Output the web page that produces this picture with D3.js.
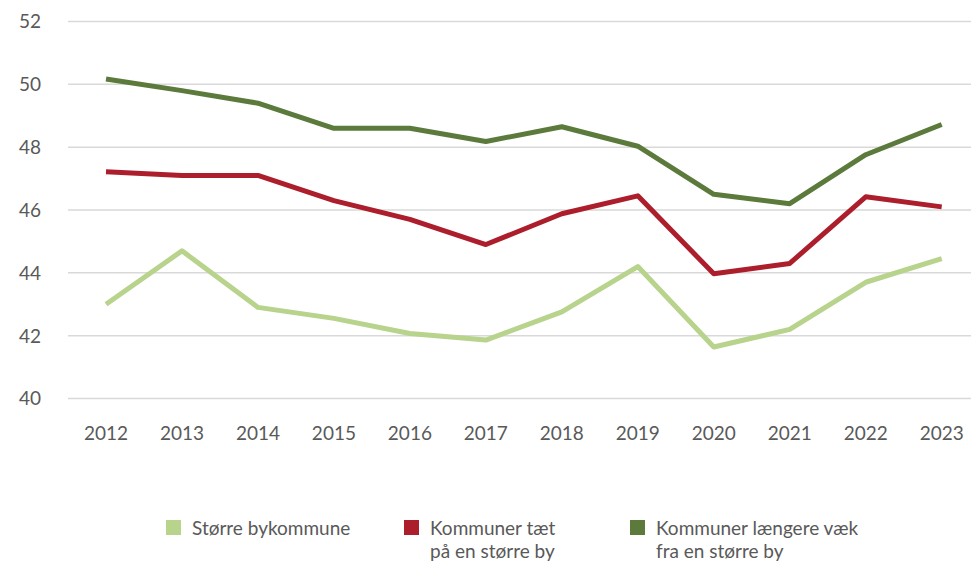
<!DOCTYPE html>
<html>
<head>
<meta charset="utf-8">
<script src="https://cdn.jsdelivr.net/npm/d3@7"></script>
<style>
  html, body { margin: 0; padding: 0; background: #fff; }
  svg { display: block; }
  text { font-family: Lato, "Open Sans", sans-serif; fill: #595959; }
</style>
</head>
<body>
<svg id="chart" width="971" height="562"></svg>
<script>
// Years on the x axis
const years = [2012, 2013, 2014, 2015, 2016, 2017, 2018, 2019, 2020, 2021, 2022, 2023];

// Series values per year
const stoerreBykommune = [43.0, 44.7, 42.9, 42.55, 42.07, 41.86, 42.76, 44.2, 41.64, 42.2, 43.7, 44.45];
const taetPaaBy        = [47.22, 47.1, 47.1, 46.3, 45.7, 44.9, 45.88, 46.45, 43.97, 44.3, 46.42, 46.1];
const laengereVaek     = [50.17, 49.8, 49.4, 48.6, 48.6, 48.18, 48.65, 48.03, 46.5, 46.2, 47.76, 48.72];

// Legend labels (split over lines)
const seriesLabels = [
  ["Større bykommune"],
  ["Kommuner tæt", "på en større by"],
  ["Kommuner længere væk", "fra en større by"]
];
const seriesColors = ["#b7d38c", "#ac1e2b", "#5b7a3b"];

// Y axis ticks
const yTicks = [40, 42, 44, 46, 48, 50, 52];

const series = [stoerreBykommune, taetPaaBy, laengereVaek];

const svg = d3.select("#chart");

const x = d3.scalePoint().domain(years).range([106, 941.7]);
const y = d3.scaleLinear().domain([40, 52]).range([398.5, 21.5]);

// Horizontal gridlines
const gridLeft = 68, gridRight = 971;
svg.append("g")
  .selectAll("line")
  .data(yTicks)
  .join("line")
  .attr("x1", gridLeft)
  .attr("x2", gridRight)
  .attr("y1", d => y(d))
  .attr("y2", d => y(d))
  .attr("stroke", "#d9d9d9")
  .attr("stroke-width", 1.5);

// Y tick labels
svg.append("g")
  .selectAll("text")
  .data(yTicks)
  .join("text")
  .attr("x", 41)
  .attr("y", d => y(d))
  .attr("dy", "0.36em")
  .attr("text-anchor", "end")
  .attr("font-size", 19)
  .text(d => d);

// X tick labels
svg.append("g")
  .selectAll("text")
  .data(years)
  .join("text")
  .attr("x", d => x(d))
  .attr("y", 440)
  .attr("text-anchor", "middle")
  .attr("font-size", 19)
  .text(d => d);

// Lines
const line = d3.line()
  .x((d, i) => x(years[i]))
  .y(d => y(d));

svg.append("g")
  .selectAll("path")
  .data(series)
  .join("path")
  .attr("d", d => line(d))
  .attr("fill", "none")
  .attr("stroke", (d, i) => seriesColors[i])
  .attr("stroke-width", 5)
  .attr("stroke-linejoin", "round");

// Legend
const legendX = [166, 404, 630];
const legend = svg.append("g")
  .selectAll("g")
  .data(seriesLabels)
  .join("g")
  .attr("transform", (d, i) => `translate(${legendX[i]},520)`);

legend.append("rect")
  .attr("width", 15)
  .attr("height", 15)
  .attr("fill", (d, i) => seriesColors[i]);

legend.append("text")
  .attr("x", 26)
  .attr("y", 15)
  .attr("font-size", 19)
  .selectAll("tspan")
  .data(d => d)
  .join("tspan")
  .attr("x", 26)
  .attr("dy", (d, i) => i === 0 ? 0 : 23)
  .text(d => d);
</script>
</body>
</html>
